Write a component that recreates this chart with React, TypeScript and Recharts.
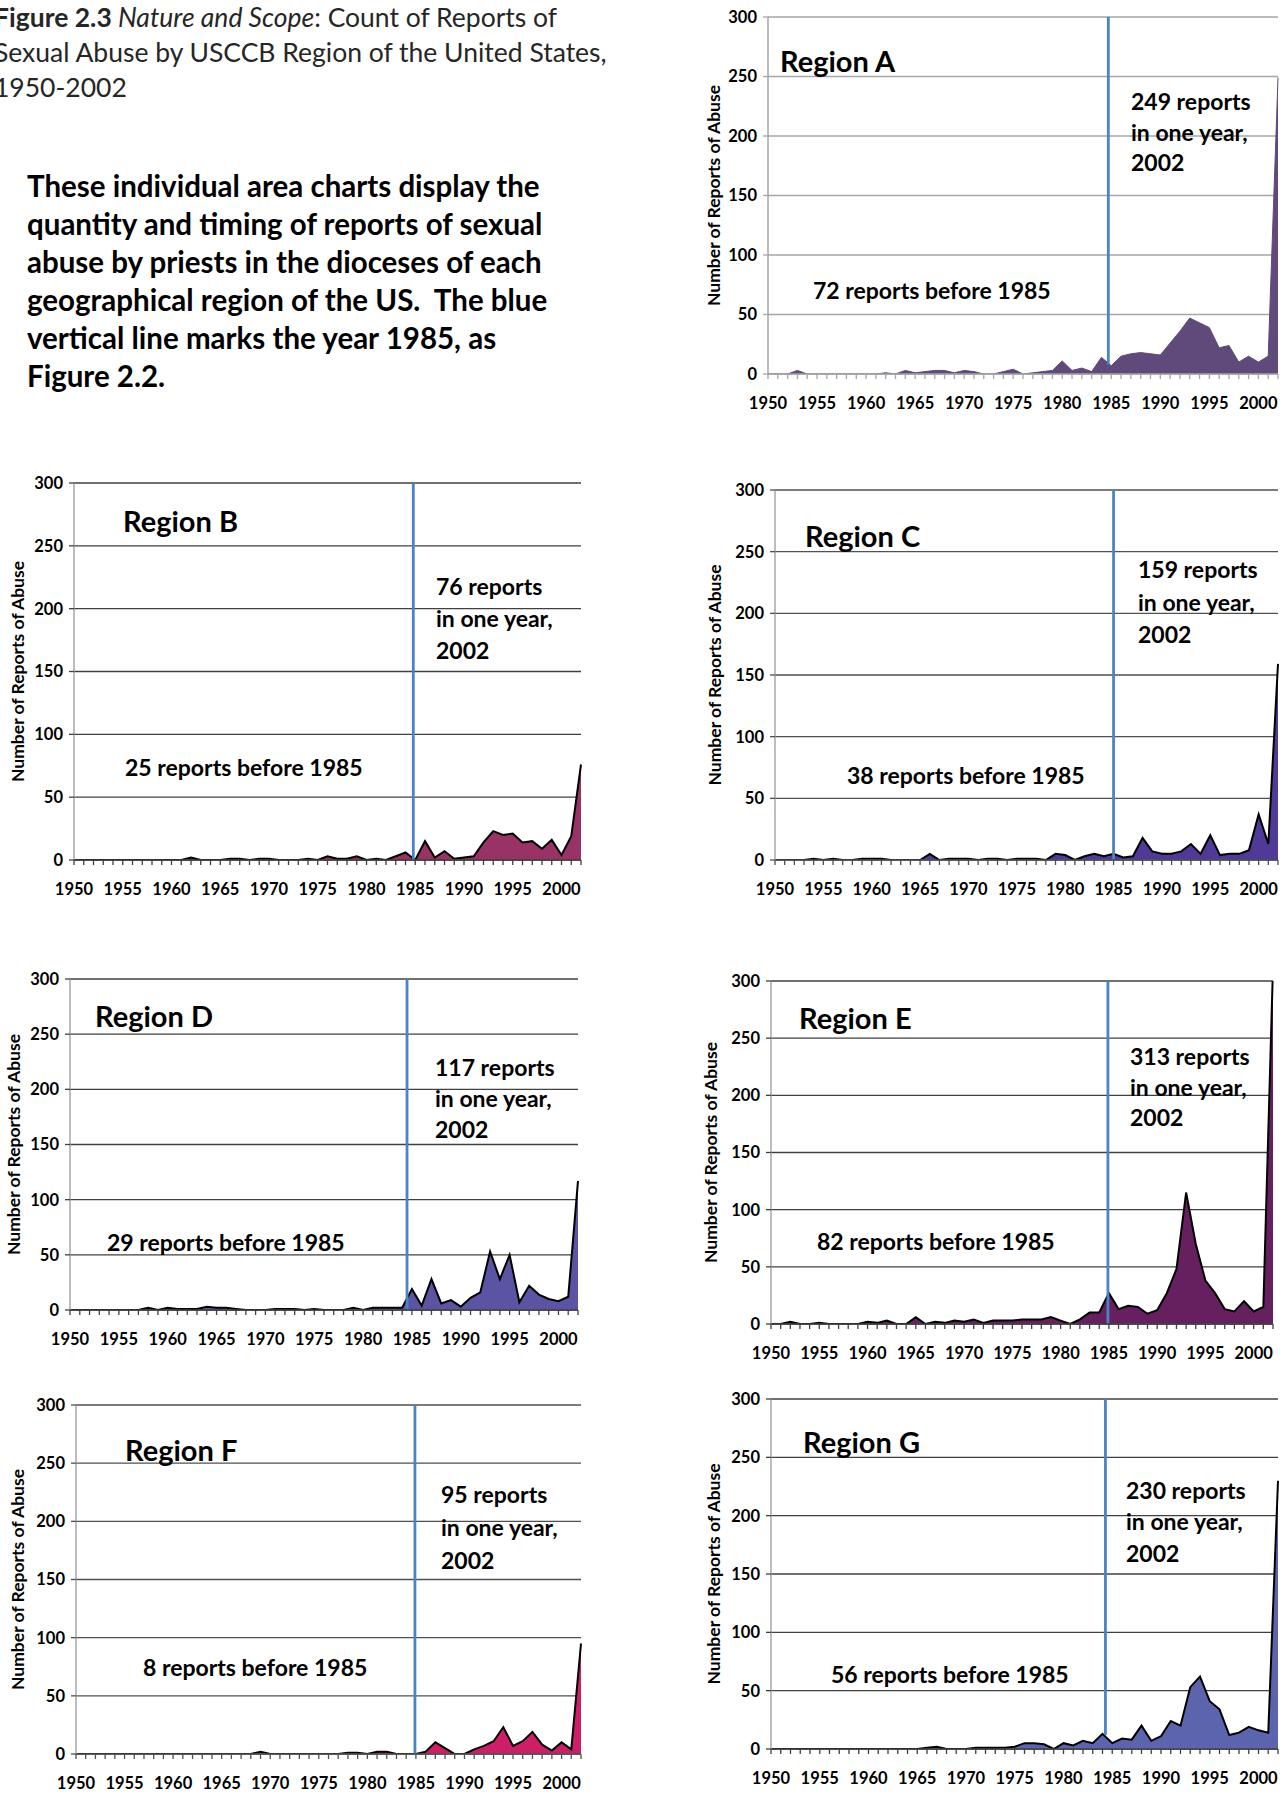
import React from 'react';
import { AreaChart, Area, XAxis, YAxis, CartesianGrid, ReferenceLine } from 'recharts';

const FONT = 'Lato, "Noto Sans", sans-serif';

const years = [
  1950, 1951, 1952, 1953, 1954, 1955, 1956, 1957, 1958, 1959,
  1960, 1961, 1962, 1963, 1964, 1965, 1966, 1967, 1968, 1969,
  1970, 1971, 1972, 1973, 1974, 1975, 1976, 1977, 1978, 1979,
  1980, 1981, 1982, 1983, 1984, 1985, 1986, 1987, 1988, 1989,
  1990, 1991, 1992, 1993, 1994, 1995, 1996, 1997, 1998, 1999,
  2000, 2001, 2002,
];
const yTicks = [0, 50, 100, 150, 200, 250, 300];
const regionNames = ['Region A', 'Region B', 'Region C', 'Region D', 'Region E', 'Region F', 'Region G'];
const peakCounts = [249, 76, 159, 117, 313, 95, 230];
const beforeCounts = [72, 25, 38, 29, 82, 8, 56];

const regionA = [
  0, 0, 0, 3, 0, 0, 0, 0, 0, 0,
  0, 0, 1, 0, 3, 1, 2, 3, 3, 1,
  3, 2, 0, 0, 2, 4, 0, 1, 2, 3,
  11, 3, 5, 2, 14, 7, 15, 17, 18, 17,
  16, 26, 36, 47, 43, 39, 22, 24, 10, 15,
  10, 15, 249,
];
const regionB = [
  0, 0, 0, 0, 0, 0, 0, 0, 0, 0,
  0, 0, 2, 0, 0, 0, 1, 1, 0, 1,
  1, 0, 0, 0, 1, 0, 3, 1, 1, 3,
  0, 1, 0, 3, 6, 0, 15, 2, 7, 1,
  2, 3, 14, 23, 20, 21, 14, 15, 9, 16,
  4, 19, 76,
];
const regionC = [
  0, 0, 0, 0, 1, 0, 1, 0, 0, 1,
  1, 1, 0, 0, 0, 0, 5, 0, 1, 1,
  1, 0, 1, 1, 0, 1, 1, 1, 0, 5,
  4, 0, 3, 5, 3, 5, 2, 3, 18, 7,
  5, 5, 7, 13, 5, 20, 4, 5, 5, 8,
  37, 13, 159,
];
const regionD = [
  0, 0, 0, 0, 0, 0, 0, 0, 2, 0,
  2, 1, 1, 1, 3, 2, 2, 1, 0, 0,
  0, 1, 1, 1, 0, 1, 0, 0, 0, 2,
  0, 2, 2, 2, 2, 19, 4, 28, 6, 9,
  3, 11, 16, 53, 28, 50, 7, 22, 14, 10,
  8, 12, 117,
];
const regionE = [
  0, 0, 2, 0, 0, 1, 0, 0, 0, 0,
  2, 1, 3, 0, 0, 6, 0, 2, 1, 3,
  2, 4, 1, 3, 3, 3, 4, 4, 4, 6,
  3, 0, 4, 10, 10, 27, 13, 16, 15, 9,
  12, 27, 48, 115, 70, 38, 27, 13, 11, 20,
  11, 15, 313,
];
const regionF = [
  0, 0, 0, 0, 0, 0, 0, 0, 0, 0,
  0, 0, 0, 0, 0, 0, 0, 0, 0, 2,
  0, 0, 0, 0, 0, 0, 0, 0, 1, 1,
  0, 2, 2, 0, 0, 0, 2, 10, 5, 0,
  0, 4, 7, 11, 23, 7, 11, 19, 8, 3,
  10, 4, 95,
];
const regionG = [
  0, 0, 0, 0, 0, 0, 0, 0, 0, 0,
  0, 0, 0, 0, 0, 0, 1, 2, 0, 0,
  0, 1, 1, 1, 1, 2, 5, 5, 4, 0,
  5, 3, 7, 5, 13, 5, 9, 8, 20, 7,
  11, 24, 20, 53, 62, 41, 34, 12, 14, 19,
  16, 14, 230,
];
const regionValues = [regionA, regionB, regionC, regionD, regionE, regionF, regionG];
// reference-line year and the value where the drawn marker stops at the bottom
const markerYears = [1984.7, 1984.8, 1985, 1984.5, 1984.9, 1984.9, 1984.3];
const markerBottoms = [8, 0, 0, 0, 0, 0, 12];

type Layout = {
  left: number; right: number; top: number; bottom: number;
  grid: string; axis: string; fill: string; stroke: string;
  yLabelX: number; title: [number, number]; before: [number, number];
  peakX: number; peakY: number[];
};

const layouts: Layout[] = [
  { left: 768, right: 1278, top: 17, bottom: 374, grid: '#a6a6a6', axis: '#a6a6a6', fill: '#604a7b', stroke: '#604a7b',
    yLabelX: 713, title: [780, 72], before: [813, 299], peakX: 1131, peakY: [110, 141, 171] },
  { left: 74, right: 581, top: 483, bottom: 860, grid: '#404040', axis: '#404040', fill: '#993366', stroke: '#000',
    yLabelX: 17, title: [123, 532], before: [125, 776], peakX: 436, peakY: [595, 627, 659] },
  { left: 775, right: 1278, top: 490, bottom: 860, grid: '#505050', axis: '#505050', fill: '#4f3a97', stroke: '#000',
    yLabelX: 714, title: [805, 547], before: [847, 784], peakX: 1138, peakY: [578, 611, 643] },
  { left: 70, right: 578, top: 979, bottom: 1310, grid: '#404040', axis: '#404040', fill: '#5b54a2', stroke: '#000',
    yLabelX: 13, title: [95, 1027], before: [107, 1251], peakX: 435, peakY: [1076, 1107, 1138] },
  { left: 771, right: 1273, top: 981, bottom: 1324, grid: '#404040', axis: '#404040', fill: '#662060', stroke: '#000',
    yLabelX: 710, title: [799, 1029], before: [817, 1250], peakX: 1130, peakY: [1065, 1096, 1126] },
  { left: 76, right: 581, top: 1405, bottom: 1754, grid: '#505050', axis: '#505050', fill: '#cc1f68', stroke: '#000',
    yLabelX: 17, title: [125, 1461], before: [143, 1676], peakX: 441, peakY: [1503, 1536, 1569] },
  { left: 771, right: 1278, top: 1399, bottom: 1749, grid: '#404040', axis: '#404040', fill: '#5c64ae', stroke: '#000',
    yLabelX: 713, title: [803, 1453], before: [831, 1683], peakX: 1126, peakY: [1499, 1530, 1562] },
];

const ML = 60;
const MT = 10;
const MR = 6;
const XH = 45;

function XTick(props: any) {
  const { x, y, payload } = props;
  const v = payload ? payload.value : null;
  if (v === null || v % 5 !== 0) return <g />;
  return (
    <text x={x} y={y} dy={30} textAnchor="middle" fontFamily={FONT} fontWeight={700} fontSize={16.5} fill="#000">
      {v}
    </text>
  );
}

function RegionChart({ idx }: { idx: number }) {
  const L = layouts[idx];
  const values = regionValues[idx];
  const data = years.map((yr, i) => ({ year: yr, value: values[i] }));
  const plotW = L.right - L.left;
  const plotH = L.bottom - L.top;
  const mx = markerYears[idx];
  return (
    <div style={{ position: 'absolute', left: L.left - ML, top: L.top - MT }}>
      <AreaChart
        width={plotW + ML + MR}
        height={plotH + MT + XH}
        data={data}
        margin={{ top: MT, right: MR, bottom: 0, left: 0 }}
      >
        <CartesianGrid vertical={false} stroke={L.grid} strokeWidth={1.3} />
        <XAxis
          dataKey="year"
          type="number"
          domain={[1950, 2002]}
          ticks={years}
          interval={0}
          height={XH}
          tickSize={5}
          tickMargin={0}
          axisLine={{ stroke: L.axis, strokeWidth: 1.3 }}
          tickLine={{ stroke: L.axis, strokeWidth: 1.3 }}
          tick={(p: any) => <XTick {...p} />}
        />
        <YAxis
          type="number"
          domain={[0, 300]}
          ticks={yTicks}
          interval={0}
          allowDataOverflow
          width={ML}
          tickSize={5}
          tickMargin={6}
          axisLine={{ stroke: '#9a9a9a', strokeWidth: 1.3 }}
          tickLine={{ stroke: L.grid, strokeWidth: 1.3 }}
          tick={{ fontFamily: FONT, fontWeight: 700, fontSize: 16.5, fill: '#000' }}
        />
        <Area
          type="linear"
          dataKey="value"
          stroke={L.stroke}
          strokeWidth={idx === 0 ? 1 : 2}
          fill={L.fill}
          fillOpacity={1}
          dot={false}
          activeDot={false}
          isAnimationActive={false}
        />
        <ReferenceLine
          segment={[{ x: mx, y: markerBottoms[idx] }, { x: mx, y: 300 }]}
          stroke="#4a84c6"
          strokeWidth={2.8}
        />
      </AreaChart>
    </div>
  );
}

const titleLines = [
  'Sexual Abuse by USCCB Region of the United States,',
  '1950-2002',
];
const paragraphLines = [
  'These individual area charts display the',
  'quantity and timing of reports of sexual',
  'abuse by priests in the dioceses of each',
  'geographical region of the US.  The blue',
  'vertical line marks the year 1985, as',
  'Figure 2.2.',
];

export default function App() {
  return (
    <div
      style={{
        position: 'absolute',
        left: 0,
        top: 0,
        width: 1286,
        height: 1794,
        overflow: 'hidden',
        background: '#fff',
        fontFamily: FONT,
      }}
    >
      {layouts.map((_, i) => (
        <RegionChart key={i} idx={i} />
      ))}
      <svg
        width={1286}
        height={1794}
        style={{ position: 'absolute', left: 0, top: 0, pointerEvents: 'none' }}
      >
        <g fontFamily={FONT} fill="#262626" fontSize={26.5}>
          <text x={-6} y={27} style={{ whiteSpace: 'pre' }}>
            <tspan fontWeight={700}>Figure 2.3</tspan>
            <tspan fontStyle="italic">{' Nature and Scope'}</tspan>
            <tspan>{': Count of Reports of'}</tspan>
          </text>
          <text x={-6} y={62}>{titleLines[0]}</text>
          <text x={-6} y={97}>{titleLines[1]}</text>
        </g>
        <g fontFamily={FONT} fill="#000" fontSize={29.5} fontWeight={700}>
          {paragraphLines.map((t, i) => (
            <text key={i} x={27} y={197 + i * 38} style={{ whiteSpace: 'pre' }}>
              {t}
            </text>
          ))}
        </g>
        {layouts.map((L, i) => {
          const cy = (L.top + L.bottom) / 2;
          return (
            <g key={i} fontFamily={FONT} fill="#000" fontWeight={700}>
              <text
                x={L.yLabelX}
                y={cy}
                fontSize={17.5}
                textAnchor="middle"
                dominantBaseline="central"
                transform={`rotate(-90, ${L.yLabelX}, ${cy})`}
              >
                Number of Reports of Abuse
              </text>
              <text x={L.title[0]} y={L.title[1]} fontSize={29}>
                {regionNames[i]}
              </text>
              <text x={L.before[0]} y={L.before[1]} fontSize={23}>
                {`${beforeCounts[i]} reports before 1985`}
              </text>
              <text x={L.peakX} y={L.peakY[0]} fontSize={23}>
                {`${peakCounts[i]} reports`}
              </text>
              <text x={L.peakX} y={L.peakY[1]} fontSize={23}>
                in one year,
              </text>
              <text x={L.peakX} y={L.peakY[2]} fontSize={23}>
                2002
              </text>
            </g>
          );
        })}
      </svg>
    </div>
  );
}
